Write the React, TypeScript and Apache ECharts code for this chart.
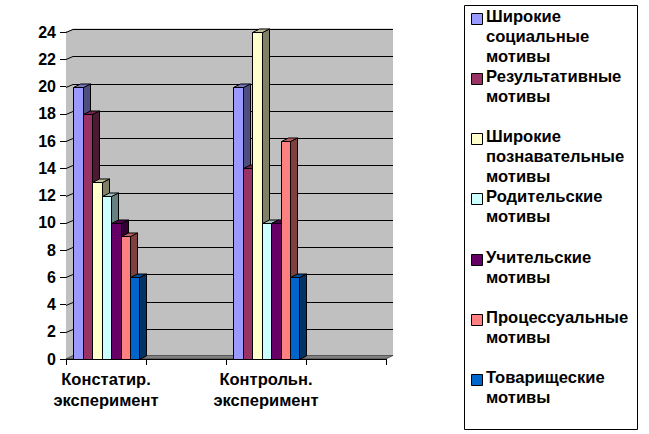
import React, { useEffect, useRef } from "react";
import * as echarts from "echarts";

const FONT = '"Liberation Sans", Arial, sans-serif';
const categories = ["Констатир.\nэксперимент", "", "Контрольн.\nэксперимент", ""];
const tickValues = [0, 2, 4, 6, 8, 10, 12, 14, 16, 18, 20, 22, 24];
const seriesNames = [
  "Широкие социальные мотивы",
  "Результативные мотивы",
  "Широкие познавательные мотивы",
  "Родительские мотивы",
  "Учительские мотивы",
  "Процессуальные мотивы",
  "Товарищеские мотивы",
];
const legendLabels = [
  "Широкие\nсоциальные\nмотивы",
  "Результативные\nмотивы",
  "Широкие\nпознавательные\nмотивы",
  "Родительские\nмотивы",
  "Учительские\nмотивы",
  "Процессуальные\nмотивы",
  "Товарищеские\nмотивы",
];
const colors = ["#9999FF", "#993366", "#FFFFCC", "#CCFFFF", "#660066", "#FF8080", "#0066CC"];
const constatValues = [20, 18, 13, 12, 10, 9, 6];
const controlValues = [20, 14, 24, 10, 10, 16, 6];

const DX = 7;
const DY = -3.5;

function shade(hex: string, k: number) {
  const n = parseInt(hex.slice(1), 16);
  const c = [(n >> 16) & 255, (n >> 8) & 255, n & 255].map((v) => Math.round(v * k));
  return `rgb(${c[0]},${c[1]},${c[2]})`;
}

function App() {
  const ref = useRef<HTMLDivElement>(null);
  useEffect(() => {
    const chart = echarts.init(ref.current!, undefined, { renderer: "svg" });
    const line = { stroke: "#000", lineWidth: 1, fill: "none" };

    const wallSeries = {
      type: "custom",
      name: "walls",
      silent: true,
      clip: false,
      z: 1,
      data: [[0, 0]],
      renderItem: (params: any, api: any) => {
        const cs = params.coordSys;
        const x0 = cs.x;
        const x1 = cs.x + cs.width;
        const y0 = api.coord([0, 0])[1];
        const yTop = api.coord([0, 24])[1];
        const children: any[] = [
          {
            type: "polygon",
            shape: { points: [[x0, y0], [x0 + DX, y0 + DY], [x1 + DX, y0 + DY], [x1 + DX, yTop + DY], [x0 + DX, yTop + DY], [x0, yTop]] },
            style: { fill: "#C0C0C0" },
          },
        ];
        tickValues.forEach((t) => {
          if (t === 0) return;
          const y = Math.round(api.coord([0, t])[1]) + 0.5;
          const yb = Math.round(y + DY) + 0.5;
          children.push({
            type: "polyline",
            shape: { points: [[x0, y], [x0 + DX, yb], [x1 + DX, yb]] },
            style: line,
          });
        });
        children.push({
          type: "polygon",
          shape: { points: [[x0, y0], [x0 + DX, y0 + DY], [x1 + DX, y0 + DY], [x1, y0]] },
          style: { fill: "#808080", stroke: "#000", lineWidth: 0.5 },
        });
        return { type: "group", children };
      },
    };

    const barSeries = seriesNames.map((name, si) => ({
      type: "custom",
      name,
      silent: true,
      clip: false,
      z: 2 + si,
      data: [
        [0, constatValues[si]],
        [2, controlValues[si]],
      ],
      renderItem: (_p: any, api: any) => {
        const band = api.size([1, 0])[0];
        const c = api.coord([api.value(0), api.value(1)]);
        const y0 = Math.round(api.coord([api.value(0), 0])[1]) + 0.5;
        const gap = band * 0.0875;
        const bw = (band - 2 * gap) / 7;
        const left = c[0] - band / 2 + gap;
        const xa = Math.ceil(left + si * bw - 0.001) + 0.5;
        const xb = Math.ceil(left + (si + 1) * bw - 0.001) + 0.5;
        const yt = Math.round(c[1]) + 0.5;
        const col = colors[si];
        const edge = { stroke: "#000", lineWidth: 1 };
        return {
          type: "group",
          children: [
            {
              type: "polygon",
              shape: { points: [[xb, yt], [xb + DX, yt + DY], [xb + DX, y0 + DY], [xb, y0]] },
              style: { fill: shade(col, 0.5), ...edge },
            },
            {
              type: "polygon",
              shape: { points: [[xa, yt], [xa + DX, yt + DY], [xb + DX, yt + DY], [xb, yt]] },
              style: { fill: shade(col, 0.75), ...edge },
            },
            {
              type: "rect",
              shape: { x: xa, y: yt, width: xb - xa, height: y0 - yt },
              style: { fill: col, ...edge },
            },
          ],
        };
      },
    }));

    const legendX = 472;
    const legendPitch = 60.3;
    const legendGraphics: any[] = [
      {
        type: "rect",
        shape: { x: 464.5, y: 5.5, width: 173, height: 424 },
        style: { fill: "#fff", stroke: "#000", lineWidth: 1 },
      },
    ];
    legendLabels.forEach((label, i) => {
      const y = 12.5 + i * legendPitch;
      legendGraphics.push({
        type: "rect",
        shape: { x: legendX - 0.5, y: Math.round(y) + 0.5, width: 11, height: 11 },
        style: { fill: colors[i], stroke: "#000", lineWidth: 1 },
      });
      legendGraphics.push({
        type: "text",
        x: 486,
        y: Math.round(y) - 6,
        style: {
          text: label,
          font: `bold 16.6px ${FONT}`,
          lineHeight: 19.8,
          fill: "#000",
          textVerticalAlign: "top",
        },
      });
    });

    chart.setOption({
      animation: false,
      backgroundColor: "#fff",
      textStyle: { fontFamily: FONT },
      grid: { left: 66, top: 32, width: 320, height: 327, containLabel: false },
      xAxis: {
        type: "category",
        data: categories,
        boundaryGap: true,
        axisLine: { show: true, lineStyle: { color: "#000", width: 1 } },
        axisTick: { show: true, length: 6, interval: 0, lineStyle: { color: "#000" } },
        axisLabel: {
          interval: 0,
          margin: 9,
          color: "#000",
          fontWeight: "bold",
          fontSize: 16.5,
          fontFamily: FONT,
          lineHeight: 21.5,
        },
        splitLine: { show: false },
      },
      yAxis: {
        type: "value",
        min: 0,
        max: 24,
        interval: 2,
        axisLine: { show: true, lineStyle: { color: "#000", width: 1 } },
        axisTick: { show: true, length: 6, lineStyle: { color: "#000" } },
        axisLabel: { margin: 10, color: "#000", fontWeight: "bold", fontSize: 16, fontFamily: FONT },
        splitLine: { show: false },
      },
      graphic: legendGraphics,
      series: [wallSeries, ...barSeries],
    });
    return () => chart.dispose();
  }, []);
  return <div ref={ref} style={{ position: "absolute", left: 0, top: 0, width: 649, height: 434 }} />;
}

export default App;
